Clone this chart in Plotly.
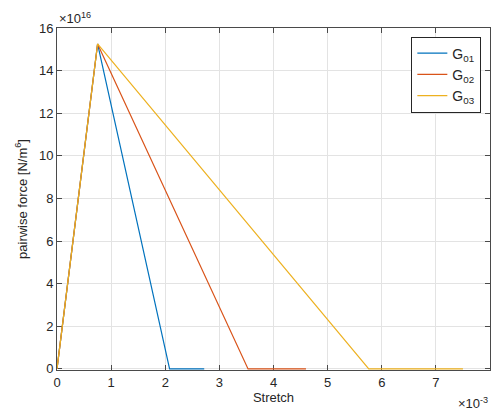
import plotly.graph_objects as go

# Stretch in units of 1e-3, force in units of 1e16 N/m^6
names = ["G<sub>01</sub>", "G<sub>02</sub>", "G<sub>03</sub>"]
colors = ["#0072BD", "#D95319", "#EDB120"]
x_g01 = [0, 0.75, 2.08, 2.72]
y_g01 = [0, 15.25, 0, 0]
x_g02 = [0, 0.75, 3.53, 4.6]
y_g02 = [0, 15.25, 0, 0]
x_g03 = [0, 0.75, 5.76, 7.5]
y_g03 = [0, 15.25, 0, 0]
xs = [x_g01, x_g02, x_g03]
ys = [y_g01, y_g02, y_g03]

x_ticks = [0, 1, 2, 3, 4, 5, 6, 7, 8]
y_ticks = [0, 2, 4, 6, 8, 10, 12, 14, 16]

fig = go.Figure()
for n, c, x, y in zip(names, colors, xs, ys):
    fig.add_trace(go.Scatter(x=x, y=y, mode="lines", name=n,
                             line=dict(color=c, width=1.2)))

axis_common = dict(showgrid=True, gridcolor="#e3e3e3", gridwidth=1,
                   showline=True, linecolor="#4a4a4a", linewidth=1, mirror="ticks",
                   ticks="inside", ticklen=5, tickcolor="#4a4a4a", layer="below traces",
                   zeroline=False, tickfont=dict(size=13, color="#262626"))

fig.update_xaxes(range=[0, 8], tickvals=x_ticks,
                 title=dict(text="Stretch", font=dict(size=13, color="#262626"), standoff=4),
                 **axis_common)
fig.update_yaxes(range=[-0.05, 16], tickvals=y_ticks,
                 title=dict(text="pairwise force [N/m<sup>6</sup>]", font=dict(size=13, color="#262626"), standoff=8),
                 **axis_common)

fig.add_annotation(text="×10<sup>16</sup>", xref="paper", yref="paper", x=0, y=1,
                   xanchor="left", yanchor="bottom", showarrow=False,
                   font=dict(size=13, color="#262626"), yshift=0)
fig.add_annotation(text="×10<sup>-3</sup>", xref="paper", yref="paper", x=1, y=0,
                   xanchor="right", yanchor="top", showarrow=False,
                   font=dict(size=13, color="#262626"), yshift=-23)

fig.update_layout(
    width=492, height=417,
    margin=dict(l=57, r=2, t=28, b=47),
    paper_bgcolor="white", plot_bgcolor="white",
    font=dict(family="Liberation Sans, Arial, sans-serif", color="#262626"),
    legend=dict(x=0.98, y=0.975, xanchor="right", yanchor="top",
                bgcolor="white", bordercolor="#262626", borderwidth=1,
                font=dict(size=14), itemwidth=30, tracegroupgap=0),
    showlegend=True,
)

fig.write_html("out.html")
